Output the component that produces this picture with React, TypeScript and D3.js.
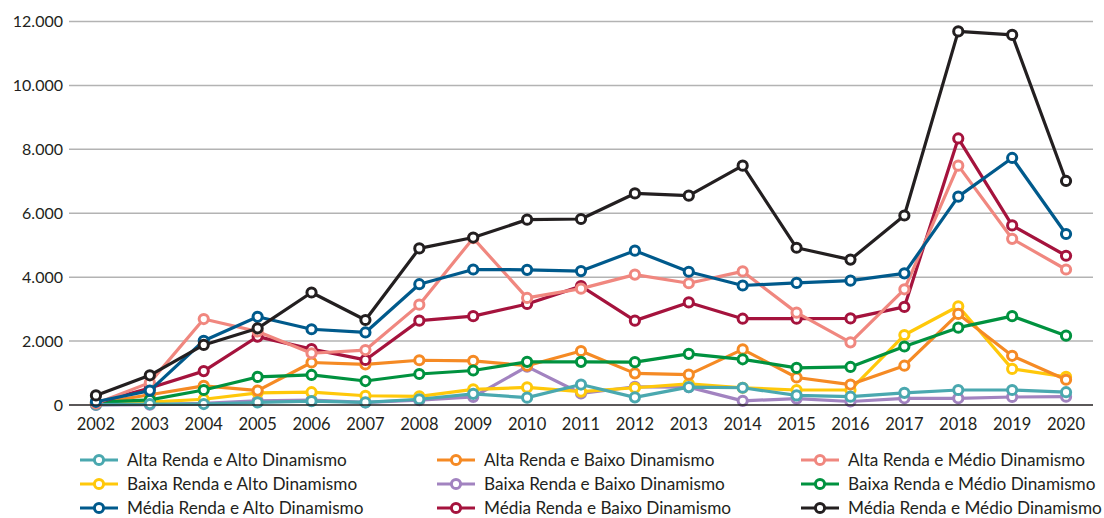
import React from 'react';
import * as d3 from 'd3';

const years = ['2002', '2003', '2004', '2005', '2006', '2007', '2008', '2009', '2010', '2011',
  '2012', '2013', '2014', '2015', '2016', '2017', '2018', '2019', '2020'];

const yTicks = [0, 2000, 4000, 6000, 8000, 10000, 12000];

const altaAlto = [10, 30, 30, 80, 120, 80, 180, 350, 230, 640, 240, 560, 540, 300, 260, 380, 470, 470, 400];
const altaBaixo = [50, 320, 600, 450, 1330, 1270, 1400, 1380, 1230, 1690, 990, 950, 1740, 860, 640, 1230, 2850, 1540, 790];
const altaMedio = [50, 700, 2690, 2300, 1620, 1720, 3140, 5220, 3350, 3640, 4080, 3810, 4180, 2890, 1960, 3620, 7490, 5200, 4240];
const baixaAlto = [30, 90, 180, 380, 400, 290, 270, 490, 550, 420, 540, 660, 540, 470, 470, 2190, 3090, 1130, 880];
const baixaBaixo = [0, 10, 50, 130, 150, 80, 150, 250, 1200, 360, 570, 560, 130, 200, 110, 210, 210, 250, 260];
const baixaMedio = [80, 160, 470, 880, 940, 750, 970, 1080, 1350, 1350, 1340, 1600, 1430, 1160, 1190, 1830, 2420, 2780, 2170];
const mediaAlto = [100, 450, 2010, 2760, 2370, 2270, 3780, 4240, 4230, 4190, 4830, 4170, 3740, 3820, 3890, 4120, 6520, 7730, 5350];
const mediaBaixo = [60, 530, 1060, 2140, 1750, 1410, 2640, 2780, 3160, 3720, 2640, 3210, 2700, 2700, 2710, 3070, 8340, 5620, 4670];
const mediaMedio = [300, 930, 1880, 2400, 3520, 2660, 4900, 5240, 5800, 5820, 6620, 6550, 7490, 4920, 4550, 5930, 11690, 11580, 7010];

const seriesNames = [
  'Alta Renda e Alto Dinamismo', 'Alta Renda e Baixo Dinamismo', 'Alta Renda e Médio Dinamismo',
  'Baixa Renda e Alto Dinamismo', 'Baixa Renda e Baixo Dinamismo', 'Baixa Renda e Médio Dinamismo',
  'Média Renda e Alto Dinamismo', 'Média Renda e Baixo Dinamismo', 'Média Renda e Médio Dinamismo',
];
const seriesValues = [altaAlto, altaBaixo, altaMedio, baixaAlto, baixaBaixo, baixaMedio, mediaAlto, mediaBaixo, mediaMedio];
const colors = ['#4aa8af', '#f58a24', '#f0877f', '#ffc80a', '#a283c0', '#00923f', '#005a8c', '#a5133d', '#231f20'];
// order the lines are painted, last on top
const drawOrder = [4, 3, 1, 5, 0, 7, 2, 6, 8];

const W = 1104;
const H = 518;
const font = 'Lato, "Open Sans", sans-serif';
const textColor = '#231f20';

export default function App() {
  const x = d3.scalePoint<string>().domain(years).range([69, 1093]).padding(0.5);
  const y = d3.scaleLinear().domain([0, 12000]).range([405, 21.5]);
  const fmt = (v: number) => (v === 0 ? '0' : d3.format(',')(v).replace(/,/g, '.'));
  const line = d3.line<number>()
    .x((_, i) => x(years[i]) as number)
    .y((d) => y(d));

  const legendCols = [80, 437, 801];
  const legendRows = [460, 484, 508];

  return (
    <svg width={W} height={H} style={{ position: 'absolute', left: 0, top: 0, background: '#fff' }}>
      {yTicks.filter((t) => t > 0).map((t) => (
        <line key={t} x1={69} x2={1093} y1={y(t)} y2={y(t)} stroke="#b3b3b3" strokeWidth={1.5} />
      ))}
      {yTicks.map((t) => (
        <text key={'l' + t} x={63} y={y(t)} dy="0.36em" textAnchor="end"
          fontFamily={font} fontSize={16} fill={textColor}>{fmt(t)}</text>
      ))}
      {years.map((yr) => (
        <text key={yr} x={x(yr)} y={430} textAnchor="middle"
          fontFamily={font} fontSize={16.5} fill={textColor}>{yr}</text>
      ))}

      {drawOrder.map((si) => (
        <g key={si}>
          <path d={line(seriesValues[si]) || ''} fill="none" stroke={colors[si]} strokeWidth={3.2}
            strokeLinejoin="round" />
          {seriesValues[si].map((v, i) => (
            <circle key={i} cx={x(years[i])} cy={y(v)} r={4.6} fill="#fff" stroke={colors[si]} strokeWidth={3} />
          ))}
        </g>
      ))}
      <line x1={69} x2={1093} y1={y(0)} y2={y(0)} stroke="#231f20" strokeWidth={1.5} />

      {seriesNames.map((name, i) => {
        const lx = legendCols[i % 3];
        const ly = legendRows[Math.floor(i / 3)];
        return (
          <g key={name}>
            <line x1={lx} x2={lx + 38} y1={ly} y2={ly} stroke={colors[i]} strokeWidth={3.2} />
            <circle cx={lx + 19} cy={ly} r={4.6} fill="#fff" stroke={colors[i]} strokeWidth={3} />
            <text x={lx + 47} y={ly} dy="0.36em" fontFamily={font} fontSize={17.2} fill={textColor}>{name}</text>
          </g>
        );
      })}
    </svg>
  );
}
